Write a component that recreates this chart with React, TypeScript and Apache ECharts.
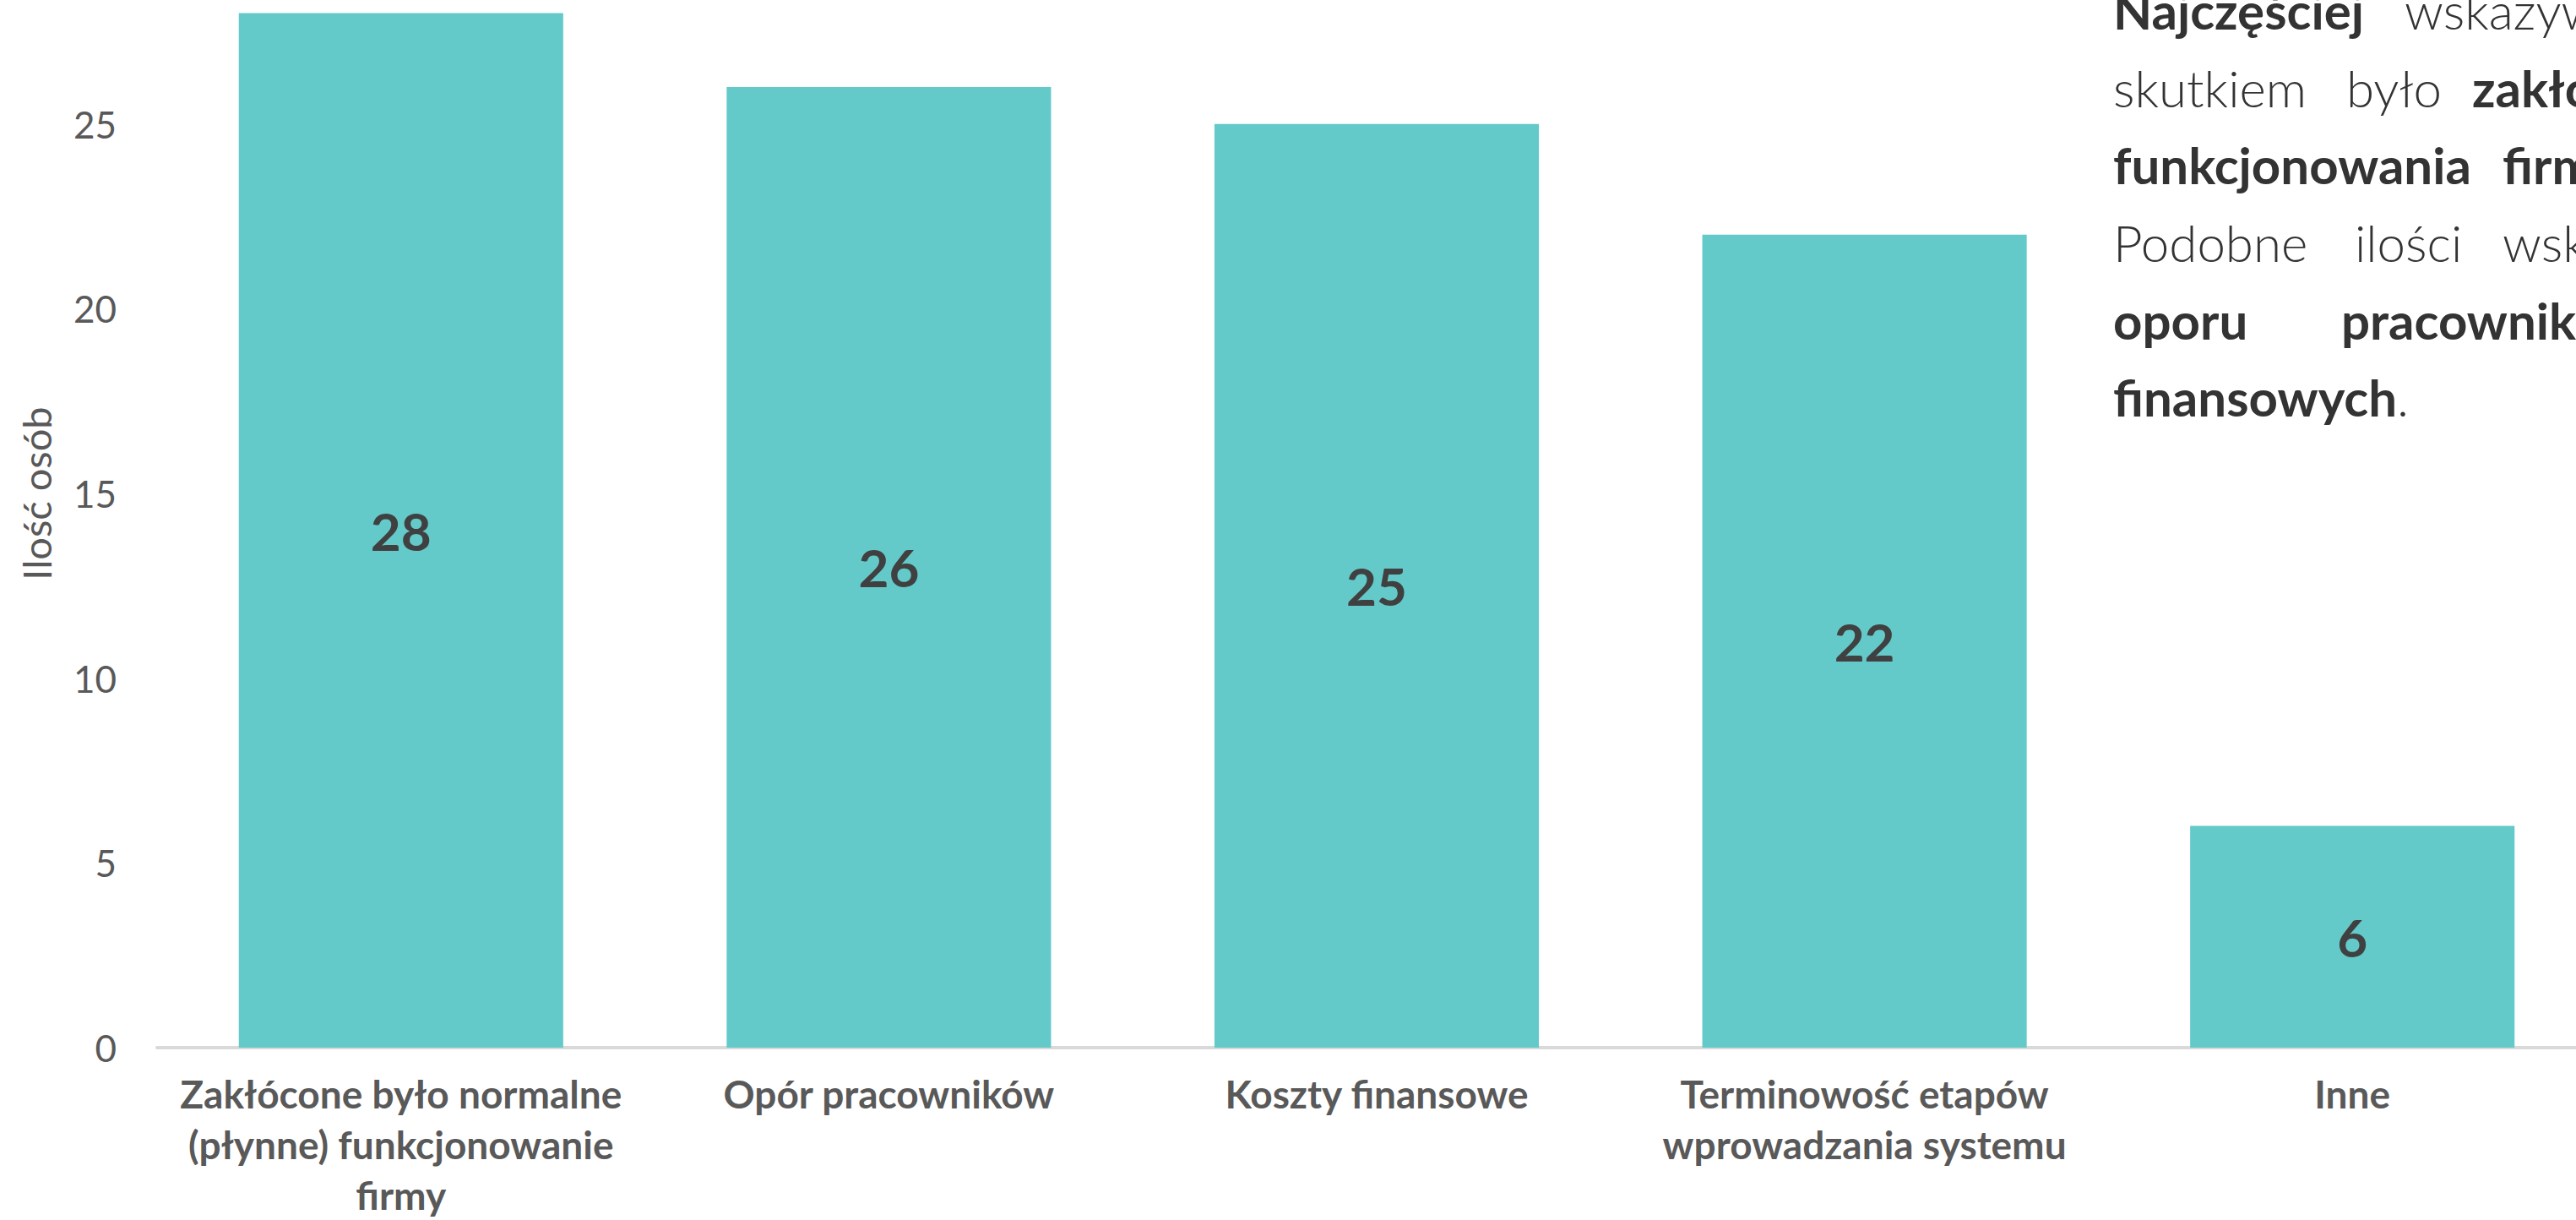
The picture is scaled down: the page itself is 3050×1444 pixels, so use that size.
import React, { useEffect, useRef } from "react";
import * as echarts from "echarts";

// ---- data ----
const categories = [
  "Zakłócone było normalne\n(płynne) funkcjonowanie\nfirmy",
  "Opór pracowników",
  "Koszty finansowe",
  "Terminowość etapów\nwprowadzania systemu",
  "Inne",
];
const values = [28, 26, 25, 22, 6];
const yAxisName = "Ilość osób";
const yMin = 0;
const yMax = 30;
const yInterval = 5;

// paragraph (justified text on the right, clipped by the page edge)
const paragraphLines: [string, boolean][][] = [
  [["Najczęściej", true], ["wskazywanym", false]],
  [["skutkiem", false], ["było", false], ["zakłócenie", true]],
  [["funkcjonowania", true], ["firmy.", true]],
  [["Podobne", false], ["ilości", false], ["wskazań", false]],
  [["oporu", true], ["pracowników", true]],
  [["finansowych", true], [".", false]],
];

// layout (pixels)
const OFFSET = 72; // the chart is shifted up so that its top (30) is cut off, as in the reference
const wordX = [
  [2502, 2847],
  [2502, 2778, 2927],
  [2502, 2963],
  [2502, 2788, 2963],
  [2502, 2772],
  [2502],
];
const lineY = [12, 104, 195, 287, 379, 470];

export default function App() {
  const ref = useRef<HTMLDivElement>(null);
  useEffect(() => {
    const chart = echarts.init(ref.current!, null, { renderer: "svg" });
    const graphics: any[] = [];
    paragraphLines.forEach((line, li) => {
      if (li === paragraphLines.length - 1) {
        graphics.push({
          type: "text",
          x: wordX[li][0],
          y: lineY[li] + OFFSET,
          silent: true,
          style: {
            text: line.map(([t, b]) => `{${b ? "b" : "l"}|${t}}`).join(""),
            rich: {
              b: { fontFamily: "Lato", fontSize: 60, fontWeight: 700, fill: "#333333" },
              l: { fontFamily: "Lato", fontSize: 60, fontWeight: 300, fill: "#333333" },
            },
            fontFamily: "Lato",
            fontSize: 60,
            align: "left",
            verticalAlign: "middle",
          },
        });
        return;
      }
      line.forEach(([text, bold], wi) => {
        graphics.push({
          type: "text",
          x: wordX[li][wi],
          y: lineY[li] + OFFSET,
          silent: true,
          style: {
            text,
            fontFamily: "Lato",
            fontSize: 60,
            fontWeight: bold ? 700 : 300,
            fill: "#333333",
            align: "left",
            verticalAlign: "middle",
          },
        });
      });
    });

    chart.setOption({
      animation: false,
      backgroundColor: "#ffffff",
      grid: {
        left: 186,
        right: -24,
        top: 0,
        bottom: 204,
        containLabel: false,
        outerBoundsMode: "none",
      },
      xAxis: {
        type: "category",
        data: categories,
        axisLine: { show: true, lineStyle: { color: "#d9d9d9", width: 4 } },
        axisTick: { show: false },
        axisLabel: {
          interval: 0,
          margin: 24,
          color: "#595959",
          fontFamily: "Lato",
          fontWeight: 700,
          fontSize: 46,
          lineHeight: 60,
          align: "center",
        },
      },
      yAxis: {
        type: "value",
        min: yMin,
        max: yMax,
        interval: yInterval,
        name: yAxisName,
        nameLocation: "middle",
        nameGap: 120,
        nameTextStyle: {
          color: "#595959",
          fontFamily: "Lato",
          fontSize: 47,
        },
        axisLine: { show: false },
        axisTick: { show: false },
        splitLine: { show: false },
        axisLabel: {
          margin: 48,
          color: "#595959",
          fontFamily: "Lato",
          fontSize: 44,
        },
      },
      series: [
        {
          type: "bar",
          data: values,
          barWidth: "66.5%",
          itemStyle: { color: "#63c9c9" },
          label: {
            show: true,
            position: "inside",
            color: "#404040",
            fontFamily: "Lato",
            fontWeight: 700,
            fontSize: 62,
          },
        },
      ],
      graphic: graphics,
    });
    return () => chart.dispose();
  }, []);
  return (
    <div style={{ position: "absolute", left: 0, top: 0, width: 3050, height: 1444, overflow: "hidden" }}>
      <div
        ref={ref}
        style={{ position: "absolute", left: 0, top: -OFFSET, width: 3050, height: 1444 + OFFSET }}
      />
    </div>
  );
}
